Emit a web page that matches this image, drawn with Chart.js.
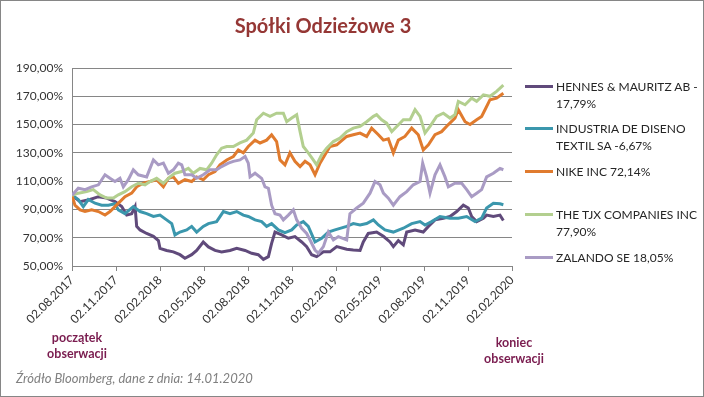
<!DOCTYPE html>
<html>
<head>
<meta charset="utf-8">
<script src="https://cdn.jsdelivr.net/npm/chart.js@4"></script>
<style>
  body { margin: 0; background: #fff; }
  #wrap { position: relative; width: 704px; height: 397px; font-family: Lato, sans-serif; }
  #frame { position: absolute; left: 0; top: 0; width: 702px; height: 395px; border: 1px solid #868686; pointer-events: none; }
  #title { position: absolute; left: 0; width: 646px; top: 13px; text-align: center; font-size: 20px; font-weight: bold; color: #953735; }
  .legend-item { position: absolute; left: 525px; font-size: 12px; line-height: 17px; color: #262626; }
  .legend-item .swatch { position: absolute; left: 0; top: 7px; width: 28px; height: 3px; }
  .legend-item .txt { position: absolute; left: 31px; top: 0; white-space: nowrap; }
  .note { position: absolute; width: 100px; text-align: center; font-size: 12.5px; font-weight: bold; line-height: 16px; color: #7a1c4f; }
  #source { position: absolute; left: 16px; top: 370px; font-size: 13px; font-style: italic; color: #808080; }
</style>
</head>
<body>
<div id="wrap">
  <canvas id="myChart" width="704" height="397"></canvas>
  <div id="title">Spółki Odzieżowe 3</div>
  <div id="legend"></div>
  <div class="note" style="left:27px; top:330px;">początek<br>obserwacji</div>
  <div class="note" style="left:464px; top:335px;">koniec<br>obserwacji</div>
  <div id="source">Źródło Bloomberg, dane z dnia: 14.01.2020</div>
  <div id="frame"></div>
</div>
<script>
// x values are months counted from 02.08.2017
const xLabels = ["02.08.2017", "02.11.2017", "02.02.2018", "02.05.2018", "02.08.2018", "02.11.2018",
  "02.02.2019", "02.05.2019", "02.08.2019", "02.11.2019", "02.02.2020"];

const seriesNames = [
  ["HENNES & MAURITZ AB -", "17,79%"],
  ["INDUSTRIA DE DISENO", "TEXTIL SA -6,67%"],
  ["NIKE INC 72,14%"],
  ["THE TJX COMPANIES INC", "77,90%"],
  ["ZALANDO SE 18,05%"]
];
const seriesColors = ["#604a7b", "#3b97ad", "#e07b2e", "#b3cf8f", "#a99bc4"];

const hmX = [0, 0.55, 1.23, 1.8, 2.36, 2.93, 3.39, 3.73, 4.07, 4.3, 4.41, 4.64, 5.09, 5.55, 5.89, 6.0, 6.45, 6.91,
  7.36, 7.7, 8.16, 8.5, 8.95, 9.3, 9.75, 10.2, 10.77, 11.23, 11.8, 12.25, 12.7, 13.05, 13.39, 13.61, 13.84, 14.3,
  14.75, 15.2, 15.66, 16.0, 16.34, 16.68, 17.14, 17.59, 18.05, 18.73, 19.18, 19.64, 19.86, 20.2, 20.77, 21.23,
  21.68, 21.91, 22.25, 22.59, 22.82, 23.39, 23.95, 24.3, 24.75, 25.32, 25.77, 26.23, 26.68, 27.02, 27.25, 27.59,
  28.05, 28.27, 28.73, 29.18, 29.41];
const hmY = [100, 95.5, 97, 99, 98, 95.5, 92, 86, 87, 92, 78, 75.5, 73, 71, 68, 62.5, 61, 60,
  58, 55.5, 58, 61, 67, 63.5, 61, 60, 61, 62.5, 61, 59, 58, 54.7, 56.6, 66, 74, 72,
  69.6, 70.8, 67, 63.7, 58, 56.6, 60, 60, 63.7, 61.8, 61.3, 61, 67, 73, 74, 71,
  67, 63.7, 68, 65, 74, 75.5, 74, 78, 82.6, 83.8, 85, 88.5, 93, 91, 85, 81.4,
  83.8, 86, 85, 86, 82.21];

const inX = [0, 0.43, 0.77, 1.11, 1.57, 2.02, 2.48, 2.93, 3.16, 3.61, 4.18, 4.64, 5.09, 5.55, 6.0, 6.45, 6.8, 7.02,
  7.36, 7.82, 8.16, 8.5, 8.95, 9.3, 9.86, 10.32, 10.77, 11.23, 11.68, 12.02, 12.48, 12.93, 13.27, 13.61, 14.07,
  14.52, 14.98, 15.32, 15.77, 16.11, 16.57, 17.02, 17.48, 17.93, 18.73, 19.18, 19.64, 20.09, 20.55, 20.89, 21.34,
  21.91, 22.59, 23.16, 23.73, 24.07, 24.52, 25.09, 25.77, 26.34, 26.91, 27.48, 27.93, 28.27, 28.73, 29.18, 29.41];
const inY = [100, 97, 92, 97, 94.4, 93, 93, 94, 89.7, 87, 92, 88.5, 87, 85, 86, 82.6, 80, 72,
  74, 75.5, 78, 74, 78, 80, 81.4, 88.5, 87, 88.5, 86, 85, 82.6, 81.4, 78, 80, 75.5,
  73.6, 75.5, 79, 81.4, 78, 67, 69.6, 74, 75.5, 78, 80, 79, 80, 82.6, 79, 75.5,
  74, 76.7, 80, 81.4, 79, 81.4, 85, 83.8, 83.8, 85, 81.4, 83.8, 91, 94.4, 94, 93.33];

const nkX = [0, 0.2, 0.55, 0.89, 1.34, 1.8, 2.25, 2.59, 2.93, 3.27, 3.61, 4.07, 4.41, 4.86, 5.32, 5.77, 6.23, 6.57,
  6.91, 7.25, 7.7, 8.16, 8.5, 8.95, 9.3, 9.75, 10.09, 10.55, 11.0, 11.34, 11.68, 12.02, 12.48, 12.82, 13.27,
  13.61, 13.95, 14.18, 14.52, 14.86, 15.2, 15.55, 15.89, 16.23, 16.57, 16.91, 17.25, 17.59, 18.05, 18.73, 19.18,
  19.64, 20.09, 20.43, 20.89, 21.23, 21.57, 21.91, 22.25, 22.7, 23.16, 23.61, 23.95, 24.3, 24.75, 25.2, 25.66,
  26.11, 26.34, 26.8, 27.14, 27.59, 27.93, 28.16, 28.5, 28.95, 29.41];
const nkY = [100, 93, 89.7, 88.5, 89.7, 88.5, 86, 88.5, 92, 95.5, 99, 101.5, 106, 108.5, 109.7, 111, 106, 112,
  113, 108.5, 111, 109.7, 113, 111, 114.5, 116.8, 121.5, 125, 127.4, 132, 130, 134.5, 139, 137, 139,
  142.8, 138, 125, 121.5, 130, 124, 120.3, 124, 121.5, 114.5, 122.7, 128.6, 134.5, 135.7, 141.6, 142.8,
  144, 141.6, 147.5, 142.8, 139, 140, 130, 139, 141.6, 147.5, 142.8, 132, 135.7, 142.8, 145, 150,
  154.6, 160.5, 152, 150, 153.4, 155.8, 160.5, 167.6, 168.7, 172.14];

const tjX = [0, 0.43, 1.0, 1.45, 1.91, 2.36, 2.82, 3.16, 3.61, 4.07, 4.52, 4.98, 5.32, 5.77, 6.23, 6.68, 7.02, 7.48,
  7.93, 8.27, 8.73, 9.18, 9.52, 9.86, 10.2, 10.55, 11.0, 11.45, 11.91, 12.36, 12.59, 13.05, 13.5, 13.95, 14.41,
  14.64, 14.98, 15.32, 15.55, 15.77, 16.11, 16.45, 16.68, 17.02, 17.36, 17.82, 18.27, 18.73, 19.18, 19.64, 20.09,
  20.55, 20.77, 21.11, 21.45, 21.8, 22.14, 22.59, 23.05, 23.39, 23.73, 24.07, 24.41, 24.86, 25.32, 25.77, 26.11,
  26.34, 26.8, 27.25, 27.59, 28.05, 28.5, 28.95, 29.41];
const tjY = [100, 101.5, 102.6, 104, 100.3, 98, 98, 100.3, 102.6, 106, 108.5, 107.4, 109.7, 112, 108.5, 113, 115.6, 116.8,
  119, 115.6, 119, 118, 122.7, 128.6, 133.3, 134.5, 134.5, 137, 139, 144, 153.4, 158, 155.8, 158, 158,
  152, 154.6, 157, 145, 134.5, 130, 125, 121.5, 128.6, 133.3, 138, 140.4, 145, 147.5, 148.7, 152,
  155.8, 157, 153.4, 151, 145, 148.7, 153.4, 153.4, 160.5, 155.8, 144, 148.7, 155.8, 158, 154.6, 157,
  166.4, 164, 168.7, 166.4, 171, 170, 173.5, 177.9];

const zaX = [0, 0.43, 0.89, 1.34, 1.8, 2.25, 2.59, 2.93, 3.27, 3.5, 3.84, 4.18, 4.52, 5.09, 5.55, 5.89, 6.23, 6.57,
  6.91, 7.25, 7.48, 7.7, 8.16, 8.5, 8.95, 9.41, 9.86, 10.2, 10.66, 11.0, 11.45, 11.8, 12.02, 12.14, 12.48,
  12.93, 13.16, 13.39, 13.61, 13.84, 14.18, 14.41, 14.75, 15.09, 15.32, 15.66, 16.0, 16.23, 16.57, 16.8, 17.14,
  17.48, 17.82, 18.16, 18.73, 18.95, 19.41, 19.86, 20.32, 20.66, 21.0, 21.23, 21.57, 21.91, 22.36, 22.82, 23.27,
  23.73, 23.91, 24.18, 24.41, 24.75, 25.09, 25.43, 25.66, 26.11, 26.57, 26.91, 27.25, 27.59, 27.93, 28.27, 28.73,
  29.18, 29.41];
const zaY = [100, 105, 104, 106, 107.4, 114.5, 112, 109.7, 112, 106, 111, 118, 114.5, 113, 125, 121.5, 122.7, 115.6,
  118, 122.7, 121.5, 114.5, 114.5, 112, 114.5, 118, 118, 120.3, 122.7, 124, 125, 127.4, 122.7, 113, 115.6,
  112, 106, 105, 93, 87, 86, 82.6, 86, 89.7, 82.6, 76.7, 73, 68.4, 61.3, 59, 63.7,
  74, 68.4, 70.8, 68.4, 87, 91, 94.4, 101.5, 109.7, 107.4, 101.5, 98, 93, 99, 102.6, 107.4,
  109.7, 122.7, 113, 101.5, 114.5, 121.5, 113, 106, 108.5, 108.5, 104, 99, 101.5, 104, 113, 115.6,
  119, 118.05];

const seriesX = [hmX, inX, nkX, tjX, zaX];
const seriesY = [hmY, inY, nkY, tjY, zaY];

function toPoints(xs, ys) {
  return xs.map(function (x, i) { return { x: x, y: ys[i] }; });
}

function formatPct(v) {
  return v.toFixed(2).replace(".", ",") + "%";
}

// legend built as html, excel style
const legendTops = [78, 120, 163, 206, 249];
const legend = document.getElementById("legend");
seriesNames.forEach(function (lines, i) {
  const item = document.createElement("div");
  item.className = "legend-item";
  item.style.top = legendTops[i] + "px";
  item.innerHTML = '<div class="swatch" style="background:' + seriesColors[i] + '"></div>' +
    '<div class="txt">' + lines.join("<br>") + "</div>";
  legend.appendChild(item);
});

const datasets = seriesNames.map(function (lines, i) {
  return {
    label: lines.join(" "),
    data: toPoints(seriesX[i], seriesY[i]),
    borderColor: seriesColors[i],
    backgroundColor: seriesColors[i],
    borderWidth: 3,
    pointRadius: 0,
    tension: 0,
    order: seriesNames.length - i
  };
});

const gridColor = "#868686";
const ctx = document.getElementById("myChart").getContext("2d");
const myChart = new Chart(ctx, {
  type: "line",
  data: { datasets: datasets },
  options: {
    responsive: false,
    animation: false,
    devicePixelRatio: 1,
    layout: { padding: { top: 68, right: 192, left: 0, bottom: 0 } },
    plugins: {
      legend: { display: false },
      tooltip: { enabled: false }
    },
    scales: {
      x: {
        type: "linear",
        min: 0,
        max: 30,
        afterFit: function (scale) { scale.height = 131; },
        grid: { drawOnChartArea: false, drawTicks: true, tickLength: 5, color: gridColor },
        border: { display: true, color: gridColor, width: 1 },
        ticks: {
          stepSize: 3,
          autoSkip: false,
          minRotation: 45,
          maxRotation: 45,
          padding: 2,
          color: "#333",
          font: { family: "Lato", size: 12 },
          callback: function (v) { return xLabels[Math.round(v / 3)]; }
        }
      },
      y: {
        min: 50,
        max: 190,
        afterFit: function (scale) { scale.width = 72; },
        grid: { color: gridColor, drawTicks: false },
        border: { display: true, color: gridColor, width: 1 },
        ticks: {
          stepSize: 20,
          padding: 9,
          color: "#333",
          font: { family: "Lato", size: 12 },
          callback: function (v) { return formatPct(v); }
        }
      }
    }
  }
});
</script>
</body>
</html>
